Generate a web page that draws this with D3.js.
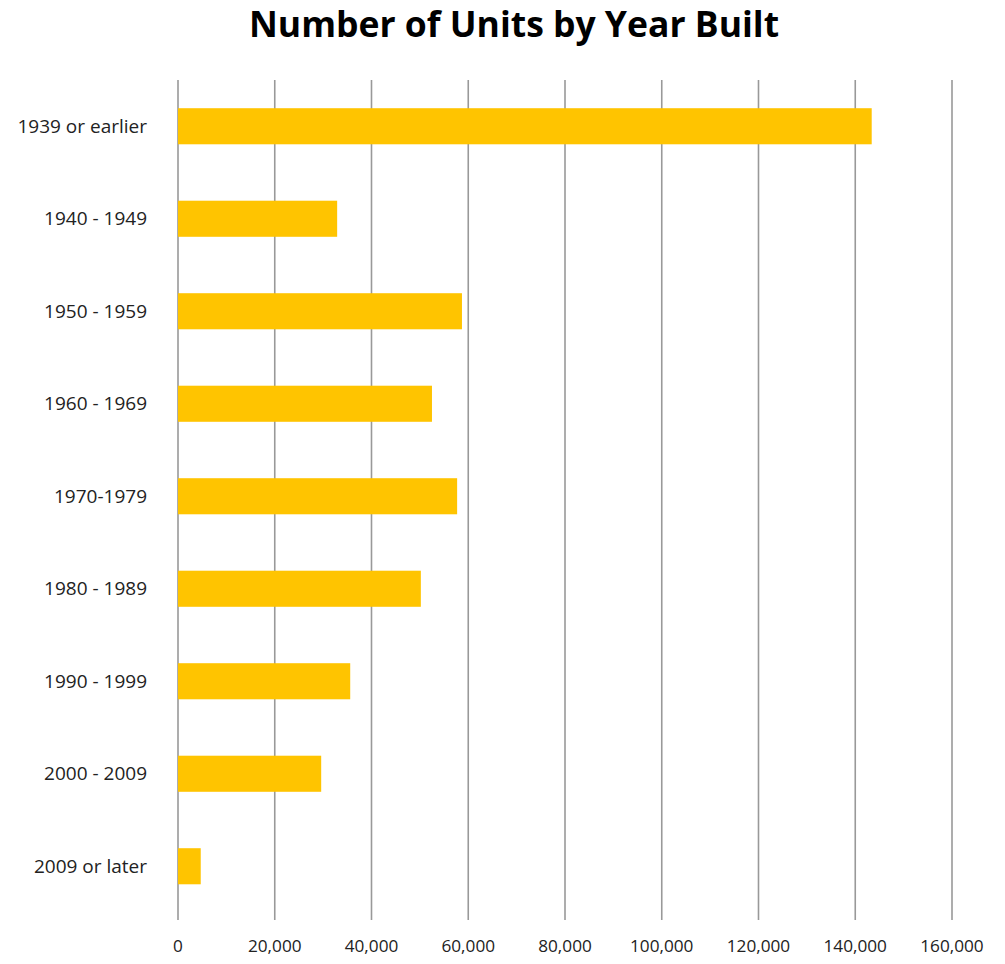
<!DOCTYPE html>
<html>
<head>
  <meta charset="utf-8">
  <style>
    html, body { margin: 0; background: #fff; overflow: hidden; }
    svg { display: block; }
    .title { font-family: "Open Sans", sans-serif; font-weight: 700; font-size: 35.5px; fill: #000; }
    .lbl { font-family: "Open Sans", sans-serif; fill: #222; }
    .cat { font-size: 19px; }
    .tick { font-size: 17.2px; }
    .grid line { stroke: #999; stroke-width: 1.6px; }
    .bar { fill: #ffc400; }
  </style>
  <script src="https://cdn.jsdelivr.net/npm/d3@7"></script>
</head>
<body>
  <svg id="svg" width="1005" height="964"></svg>
  <script>
    var categories = ["1939 or earlier", "1940 - 1949", "1950 - 1959", "1960 - 1969",
                      "1970-1979", "1980 - 1989", "1990 - 1999", "2000 - 2009", "2009 or later"];
    var units = [143400, 32900, 58700, 52500, 57700, 50200, 35600, 29600, 4700];
    var ticks = [0, 20000, 40000, 60000, 80000, 100000, 120000, 140000, 160000];

    var svg = d3.select("#svg");

    var x = d3.scaleLinear().domain([0, 160000]).range([178, 952]);
    var y = d3.scaleBand().domain(categories)
      .range([80, 912.5]).paddingInner(0.61).paddingOuter(0.305);

    svg.append("text")
      .attr("class", "title")
      .attr("x", 514)
      .attr("y", 37)
      .attr("text-anchor", "middle")
      .text("Number of Units by Year Built");

    // vertical gridlines
    svg.append("g").attr("class", "grid")
      .selectAll("line").data(ticks).enter()
      .append("line")
      .attr("x1", function(d){ return x(d); })
      .attr("x2", function(d){ return x(d); })
      .attr("y1", 80)
      .attr("y2", 920);

    svg.append("g")
      .selectAll("rect").data(units).enter()
      .append("rect")
      .attr("class", "bar")
      .attr("x", x(0))
      .attr("y", function(d, i){ return y(categories[i]); })
      .attr("width", function(d){ return x(d) - x(0); })
      .attr("height", y.bandwidth());

    // category labels
    svg.append("g")
      .selectAll("text").data(categories).enter()
      .append("text")
      .attr("class", "lbl cat")
      .attr("x", 147)
      .attr("y", function(d){ return y(d) + y.bandwidth() / 2; })
      .attr("dy", "0.35em")
      .attr("text-anchor", "end")
      .text(function(d){ return d; });

    // tick labels
    var fmt = d3.format(",");
    svg.append("g")
      .selectAll("text").data(ticks).enter()
      .append("text")
      .attr("class", "lbl tick")
      .attr("x", function(d){ return x(d); })
      .attr("y", 946)
      .attr("dy", "0.35em")
      .attr("text-anchor", "middle")
      .text(function(d){ return fmt(d); });
  </script>
</body>
</html>
